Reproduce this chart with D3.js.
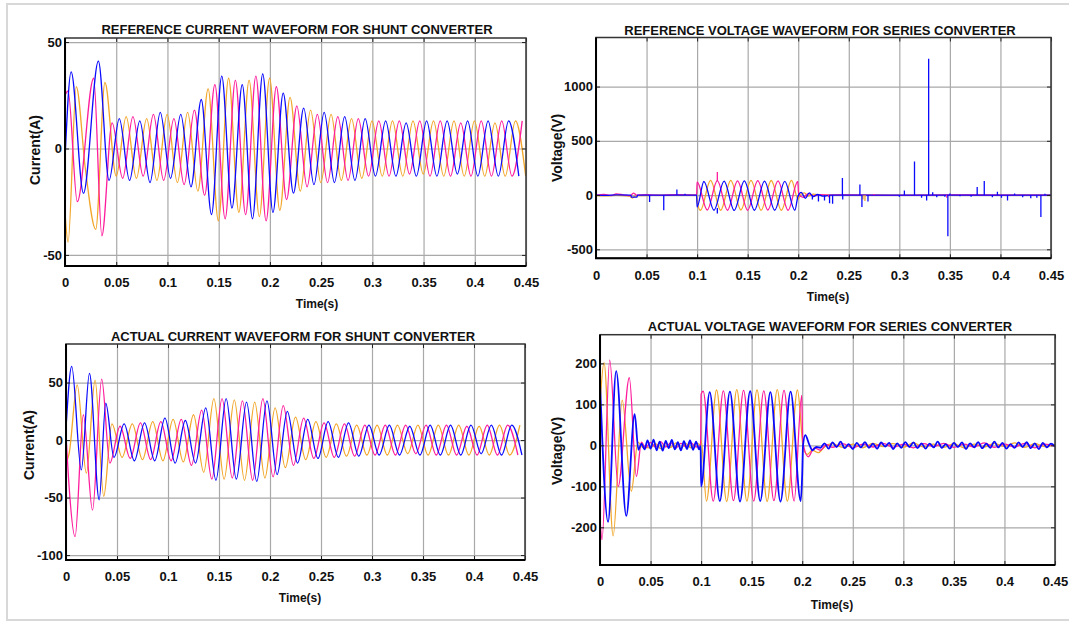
<!DOCTYPE html>
<html>
<head>
<meta charset="utf-8">
<script src="https://cdn.jsdelivr.net/npm/d3@7"></script>
<style>
  body { margin: 0; background: #fff; }
  text { font-family: "Liberation Sans", Arial, sans-serif; font-weight: bold; fill: #111; }
</style>
</head>
<body>
<svg id="chart" width="1069" height="623"></svg>
<script>
// ---- data ----
const HALF = 0.01;   // half period of the 50 Hz waves
const xTicks = [0, 0.05, 0.1, 0.15, 0.2, 0.25, 0.3, 0.35, 0.4, 0.45];

// reference current, shunt converter
const refCurBlueEarly = [[0,-5],[0.006,36],[0.018,-21],[0.0326,41],[0.043,-15]];
const refCurBlueVals = [14,-15,13,-16,17,-14,16,-18,23,-31,34,-28,30,-33,35,-30,26,-21,19,-17,
  17,-16,15,-15,14,-13,13,-13,12,-13,13,-13,13,-12,13,-13,13,-13,13,-13];
const refCurPinkEarly = [[0,25],[0.003,27],[0.012,-25],[0.028,33],[0.036,-41],[0.046,12]];
const refCurPinkVals = [-14,15,-13,16,-15,14,-17,18,-22,30,-33,32,-31,34,-34,29,-24,20,-18,16,
  -16,15,-15,14,-13,13,-13,13,-12,13,-13,13,-13,12,-13,13,-13,13,-13,13];
const refCurOrangeEarly = [[0,-30],[0.003,-44],[0.011,29],[0.02,-10],[0.03,-38],[0.039,31],[0.05,-13]];
const refCurOrangeVals = [15,-14,14,-15,16,-16,17,-20,28,-34,33,-30,32,-32,33,-29,24,-20,18,-16,
  16,-15,14,-14,13,-13,13,-13,13,-12,13,-13,13,-13,13,-13,12,-13,13,-13];

// reference voltage, series converter
const refVoltPinkEarly = [[0,0],[0.008,6],[0.015,-4],[0.02,10],[0.027,2],[0.034,-6],[0.037,18],[0.04,0],
  [0.05,3],[0.065,-3],[0.08,4],[0.0995,0],[0.1,120]];
const refVoltPinkVals = [-138,132,-140,130,-140,132,-138,130,-140];
const refVoltPinkTail = [[0.1995,125],[0.2005,5],[0.205,-22],[0.21,14],[0.215,-8],[0.222,3],[0.23,0],
  [0.25,2],[0.3,-3],[0.35,2],[0.4,-2],[0.45,0]];
const refVoltBlueEarly = [[0,0],[0.01,-3],[0.02,2],[0.0345,0],[0.035,-20],[0.0405,-20],[0.041,0],[0.0995,0],[0.1,-110]];
const refVoltBlueVals = [125,-140,128,-142,130,-140,128,-140,126,-140];
const refVoltBlueTail = [[0.1998,-10],[0.203,25],[0.207,-30],[0.211,20],[0.215,-15],[0.219,5],[0.225,-10],[0.232,0],[0.45,0]];
const refVoltOrangeEarly = [[0,-5],[0.01,-8],[0.02,-3],[0.033,-10],[0.036,-28],[0.04,-5],[0.06,-2],[0.0995,0],[0.1,-60]];
const refVoltOrangeVals = [-140,135,-140,136,-138,135,-140,134,-140,135];
const refVoltOrangeTail = [[0.2,-40],[0.2015,-5],[0.206,20],[0.21,-10],[0.215,8],[0.222,0],[0.45,0]];
// single-sample spikes: [time, value, base]
const refVoltBlueSpikes = [[0.012,-8],[0.053,-64],[0.067,-141],[0.08,50],[0.088,12],[0.12,-170,-120],
  [0.214,-40],[0.22,-60],[0.226,-50],[0.231,-75],[0.234,-80],[0.2437,158],[0.244,-40],[0.261,98],[0.263,-110],
  [0.269,-60],[0.3,-15],[0.305,43],[0.315,310],[0.322,-25],[0.327,-50],[0.329,1256],[0.333,25],[0.337,-20],
  [0.345,-15],[0.348,-380],[0.35,15],[0.36,-12],[0.371,-15],[0.377,74],[0.384,129],[0.392,-20],[0.397,30],
  [0.401,-25],[0.407,-50],[0.414,15],[0.422,-20],[0.43,-30],[0.436,-25],[0.44,-202],[0.444,12]];
const refVoltPinkSpikes = [[0.12,212,130],[0.23,-20],[0.275,10],[0.347,-25]];
const refVoltOrangeSpikes = [[0.264,-40],[0.266,-55]];

// actual current, shunt converter
const actCurBlueEarly = [[0,10],[0.0056,64],[0.015,-26],[0.023,58],[0.0325,-52],[0.039,32],[0.047,-15]];
const actCurBlueVals = [14,-18,15,-18,19,-20,17,-20,28,-35,36,-34,33,-36,34,-30,25,-20,18,-16,
  16,-15,15,-14,13,-13,13,-13,12,-13,13,-13,13,-13,13,-12,13,-13,13,-13];
const actCurPinkEarly = [[0,5],[0.003,-40],[0.0089,-84],[0.017,22],[0.026,-61],[0.035,53],[0.043,-20]];
const actCurPinkVals = [12,-16,15,-17,16,-18,18,-22,26,-34,36,-33,34,-35,36,-32,30,-22,19,-16,
  15,-15,14,-14,13,-13,13,-13,13,-12,13,-13,13,-13,12,-13,13,-13,13,-13];
const actCurOrangeEarly = [[0,-20],[0.003,-12],[0.011,48],[0.02,-29],[0.0285,52],[0.037,-49],[0.045,14]];
const actCurOrangeVals = [-15,14,-17,16,-18,18,-19,22,-28,36,-34,35,-35,33,-33,28,-24,20,-17,16,
  -15,14,-14,13,-13,13,-13,13,-12,13,-13,13,-13,13,-13,12,-13,13,-13,13];

// actual voltage, series converter
const actVoltPinkEarly = [[0,-180],[0.002,-230],[0.0096,208],[0.018,-100],[0.029,165],[0.036,-76],[0.041,8],[0.045,-6],
  [0.05,7],[0.055,-5],[0.06,9],[0.065,-4],[0.07,6],[0.075,-7],[0.08,5],[0.085,-3],[0.09,6],[0.095,-4],[0.0995,0],[0.1,125]];
const actVoltPinkVals = [132,-136,133,-135,134,-136,133,-135,134,-136];
const actVoltPinkTail = [[0.1995,122],[0.2005,10],[0.206,-28],[0.212,-6],[0.218,-12],[0.224,2]];
const actVoltPinkNoise = [-5,4,-6,3,-4,5,-5,3,-6,4,-3,5,-5,3,-4,6,-5,3,-4,5,-6,3,-2];
const actVoltBlueEarly = [[0,154],[0.008,-187],[0.016,181],[0.026,-172],[0.0343,76],[0.038,-11],[0.041,4]];
const actVoltBlueNoiseA = [-10,12,-8,14,-12,9,-13,11,-7,13,-10,8,-12,10,-9,12,-11,9,-10];
const actVoltBlueVals = [130,-136,131,-137,132,-136,130,-137,131,-136];
const actVoltBlueTail = [[0.2,-70],[0.2008,0],[0.203,25],[0.207,2],[0.21,-12],[0.214,-4]];
const actVoltBlueNoiseB = [-6,5,-8,7,-4,9,-7,3,-9,6,-5,8,-6,4,-8,7,-3,6,-9,5,-6,8,-4,7,-7,5,-8,4,-5,9,
  -6,3,-8,6,-4,7,-9,5,-5,8,-7,4,-6,9,-5,6,-8,3,-6,7,-4,8,-7,5,-9,6,-5,4,-3];
const actVoltOrangeEarly = [[0,100],[0.004,202],[0.013,-221],[0.022,110],[0.031,-112],[0.0375,8],[0.042,-5],
  [0.05,-6],[0.055,4],[0.06,-8],[0.065,5],[0.07,-5],[0.075,6],[0.08,-7],[0.085,4],[0.09,-6],[0.095,5],[0.0995,2],[0.1,12]];
const actVoltOrangeVals = [-136,135,-137,136,-136,135,-137,136,-136,135];
const actVoltOrangeTail = [[0.2,15],[0.2008,-5],[0.205,-22],[0.21,-12],[0.216,-18],[0.222,-4]];
const actVoltOrangeNoise = [4,-5,3,-6,5,-3,4,-5,6,-4,3,-5,4,-6,3,-4,5,-3,6,-5,4,-3,2];

// ---- helpers ----
function wave(early, t0, vals, tail) {
  const pts = early.slice();
  vals.forEach((v, i) => pts.push([t0 + i * HALF, v]));
  if (tail) tail.forEach(p => pts.push(p));
  return pts;
}
function sampled(t0, step, vals) {
  return vals.map((v, i) => [t0 + i * step, v]);
}

const BLUE = "#0a0aff", PINK = "#ff1c9c", ORANGE = "#f2a62a";

const panels = [
  { left: 65, right: 526, top: 38, bottom: 266, yDomain: [-55.2, 51.9], yTicks: [-50, 0, 50],
    title: "REFERENCE CURRENT WAVEFORM FOR SHUNT CONVERTER", titleX: 297, titleY: 34,
    yLabel: "Current(A)", yLabelX: 40, yLabelY: 150, xLabelX: 317, xLabelY: 308,
    series: [
      { color: ORANGE, pts: wave(refCurOrangeEarly, 0.0597, refCurOrangeVals) },
      { color: PINK, pts: wave(refCurPinkEarly, 0.0563, refCurPinkVals) },
      { color: BLUE, pts: wave(refCurBlueEarly, 0.053, refCurBlueVals) }
    ], spikes: [] },
  { left: 596, right: 1051, top: 37.5, bottom: 258.3, yDomain: [-583, 1452], yTicks: [-500, 0, 500, 1000],
    title: "REFERENCE VOLTAGE WAVEFORM FOR SERIES CONVERTER", titleX: 820, titleY: 35,
    yLabel: "Voltage(V)", yLabelX: 562, yLabelY: 148, xLabelX: 828, xLabelY: 301,
    series: [
      { color: ORANGE, pts: wave(refVoltOrangeEarly, 0.1033, refVoltOrangeVals, refVoltOrangeTail) },
      { color: PINK, pts: wave(refVoltPinkEarly, 0.11, refVoltPinkVals, refVoltPinkTail) },
      { color: BLUE, pts: wave(refVoltBlueEarly, 0.1067, refVoltBlueVals, refVoltBlueTail) }
    ],
    spikes: [
      { color: ORANGE, data: refVoltOrangeSpikes },
      { color: PINK, data: refVoltPinkSpikes },
      { color: BLUE, data: refVoltBlueSpikes }
    ] },
  { left: 66, right: 525, top: 344, bottom: 560, yDomain: [-104.3, 83.5], yTicks: [-100, -50, 0, 50],
    title: "ACTUAL CURRENT WAVEFORM FOR SHUNT CONVERTER", titleX: 293, titleY: 341,
    yLabel: "Current(A)", yLabelX: 34, yLabelY: 445, xLabelX: 300, xLabelY: 602,
    series: [
      { color: ORANGE, pts: wave(actCurOrangeEarly, 0.055, actCurOrangeVals) },
      { color: PINK, pts: wave(actCurPinkEarly, 0.053, actCurPinkVals) },
      { color: BLUE, pts: wave(actCurBlueEarly, 0.057, actCurBlueVals) }
    ], spikes: [] },
  { left: 600, right: 1055, top: 334.7, bottom: 565, yDomain: [-292, 270], yTicks: [-200, -100, 0, 100, 200],
    title: "ACTUAL VOLTAGE WAVEFORM FOR SERIES CONVERTER", titleX: 830, titleY: 331,
    yLabel: "Voltage(V)", yLabelX: 562, yLabelY: 451, xLabelX: 832, xLabelY: 609,
    series: [
      { color: ORANGE, pts: wave(actVoltOrangeEarly, 0.1053, actVoltOrangeVals, actVoltOrangeTail)
          .concat(sampled(0.23, 0.01, actVoltOrangeNoise)) },
      { color: PINK, pts: wave(actVoltPinkEarly, 0.102, actVoltPinkVals, actVoltPinkTail)
          .concat(sampled(0.23, 0.01, actVoltPinkNoise)) },
      { color: BLUE, width: 1.8, pts: actVoltBlueEarly
          .concat(sampled(0.044, 0.003, actVoltBlueNoiseA), [[0.0995,-2],[0.1,-100]])
          .concat(wave([], 0.1085, actVoltBlueVals, actVoltBlueTail))
          .concat(sampled(0.218, 0.004, actVoltBlueNoiseB)) }
    ], spikes: [] }
];

// ---- drawing ----
const svg = d3.select("#chart");

// faint frame of the figure
svg.append("rect")
  .attr("x", 7).attr("y", 4).attr("width", 1080).attr("height", 616)
  .attr("fill", "none").attr("stroke", "#d8d8d8").attr("stroke-width", 2);

panels.forEach((p, idx) => {
  const w = p.right - p.left, h = p.bottom - p.top;
  const x = d3.scaleLinear().domain([0, 0.45]).range([0, w]);
  const y = d3.scaleLinear().domain(p.yDomain).range([h, 0]);
  const g = svg.append("g").attr("transform", "translate(" + p.left + "," + p.top + ")");

  // grid
  g.append("g").attr("transform", "translate(0," + h + ")")
    .call(d3.axisBottom(x).tickValues(xTicks).tickSize(-h).tickFormat(""))
    .call(a => a.select(".domain").remove())
    .selectAll("line").attr("stroke", "#a9a9a9").attr("stroke-width", 1.2);
  g.append("g")
    .call(d3.axisLeft(y).tickValues(p.yTicks).tickSize(-w).tickFormat(""))
    .call(a => a.select(".domain").remove())
    .selectAll("line").attr("stroke", "#a9a9a9").attr("stroke-width", 1.2);

  // waveforms
  const clipId = "clip" + idx;
  g.append("clipPath").attr("id", clipId)
    .append("rect").attr("width", w).attr("height", h);
  const plot = g.append("g").attr("clip-path", "url(#" + clipId + ")");
  const line = d3.line()
    .x(d => x(d[0]))
    .y(d => y(d[1]))
    .curve(d3.curveMonotoneX);

  p.series.forEach(s => {
    plot.append("path")
      .datum(s.pts)
      .attr("d", line)
      .attr("fill", "none")
      .attr("stroke", s.color)
      .attr("stroke-width", s.width || 1.3)
      .attr("stroke-linejoin", "round");
  });
  p.spikes.forEach(s => {
    plot.selectAll(null)
      .data(s.data)
      .join("line")
      .attr("x1", d => x(d[0])).attr("x2", d => x(d[0]))
      .attr("y1", d => y(d[2] || 0)).attr("y2", d => y(d[1]))
      .attr("stroke", s.color).attr("stroke-width", 1.3);
  });

  // inward ticks on all four sides
  g.append("g").attr("transform", "translate(0," + h + ")")
    .call(d3.axisTop(x).tickValues(xTicks).tickSize(4).tickFormat(""))
    .call(a => a.select(".domain").remove());
  g.append("g")
    .call(d3.axisBottom(x).tickValues(xTicks).tickSize(4).tickFormat(""))
    .call(a => a.select(".domain").remove());
  g.append("g")
    .call(d3.axisRight(y).tickValues(p.yTicks).tickSize(4).tickFormat(""))
    .call(a => a.select(".domain").remove());
  g.append("g").attr("transform", "translate(" + w + ",0)")
    .call(d3.axisLeft(y).tickValues(p.yTicks).tickSize(4).tickFormat(""))
    .call(a => a.select(".domain").remove());
  g.selectAll(".tick line").filter(function() { return !this.getAttribute("stroke") || this.getAttribute("stroke") === "currentColor"; })
    .attr("stroke", "#222");

  // box
  g.append("rect").attr("width", w).attr("height", h)
    .attr("fill", "none").attr("stroke", "#333").attr("stroke-width", 1.5);
  g.append("path").attr("d", "M0,0V" + h + "H" + w)
    .attr("fill", "none").attr("stroke", "#000").attr("stroke-width", 2);

  // tick labels
  g.append("g").attr("transform", "translate(0," + h + ")")
    .call(d3.axisBottom(x).tickValues(xTicks).tickSize(0).tickPadding(12).tickFormat(d => String(d)))
    .call(a => a.select(".domain").remove())
    .selectAll("text").attr("font-size", 13).attr("fill", "#111")
    .attr("font-family", "'Liberation Sans', Arial, sans-serif").attr("font-weight", "bold");
  g.append("g")
    .call(d3.axisLeft(y).tickValues(p.yTicks).tickSize(0).tickPadding(3).tickFormat(d => String(d)))
    .call(a => a.select(".domain").remove())
    .selectAll("text").attr("font-size", 13).attr("fill", "#111")
    .attr("font-family", "'Liberation Sans', Arial, sans-serif").attr("font-weight", "bold");

  // titles and axis labels
  svg.append("text").attr("x", p.titleX).attr("y", p.titleY)
    .attr("text-anchor", "middle").attr("font-size", 13).text(p.title);
  svg.append("text").attr("x", p.xLabelX).attr("y", p.xLabelY)
    .attr("text-anchor", "middle").attr("font-size", 12).text("Time(s)");
  svg.append("text")
    .attr("transform", "translate(" + p.yLabelX + "," + p.yLabelY + ") rotate(-90)")
    .attr("text-anchor", "middle").attr("font-size", 14).text(p.yLabel);
});
</script>
</body>
</html>
